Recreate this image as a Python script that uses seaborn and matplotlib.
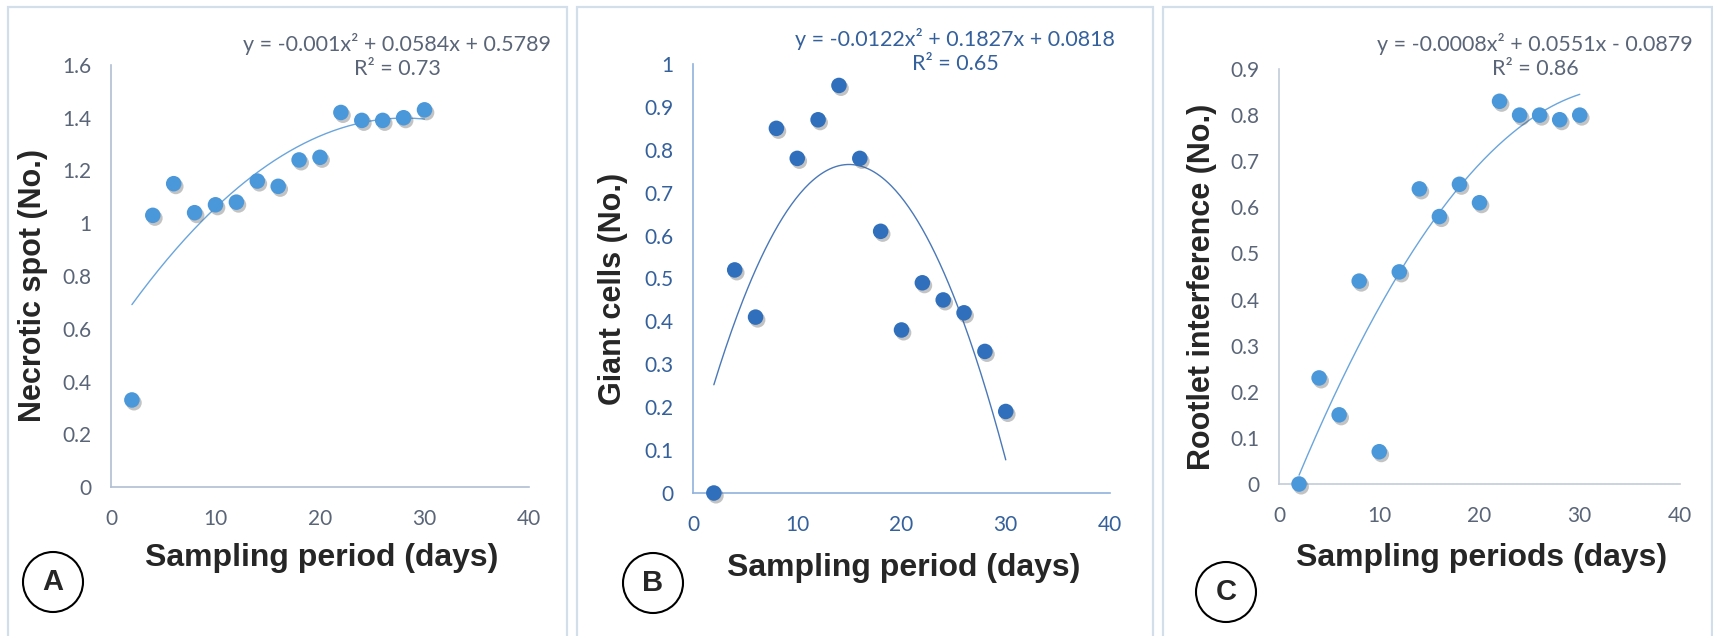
import numpy as np
import pandas as pd
import matplotlib
matplotlib.use('Agg')
import matplotlib.pyplot as plt
import matplotlib.patheffects as pe
from matplotlib.patches import Rectangle, Ellipse
import seaborn as sns

# sampling days shared by all three panels
days = [2, 4, 6, 8, 10, 12, 14, 16, 18, 20, 22, 24, 26, 28, 30]

necrotic = [0.33, 1.03, 1.15, 1.04, 1.07, 1.08, 1.16, 1.14, 1.24, 1.25, 1.42, 1.39, 1.39, 1.40, 1.43]
giant = [0.0, 0.52, 0.41, 0.85, 0.78, 0.87, 0.95, 0.78, 0.61, 0.38, 0.49, 0.45, 0.42, 0.33, 0.19]
rootlet = [0.0, 0.23, 0.15, 0.44, 0.07, 0.46, 0.64, 0.58, 0.65, 0.61, 0.83, 0.80, 0.80, 0.79, 0.80]

# quadratic trendlines (in days); B's equation was fitted on sample index = days/2
trend_a = [-0.00104, 0.0584, 0.5789]
trend_b = [-0.0122 / 4, 0.1827 / 2, 0.0818]
trend_c = [-0.0008, 0.0551, -0.0879]

eq_a = 'y = -0.001x² + 0.0584x + 0.5789\nR² = 0.73'
eq_b = 'y = -0.0122x² + 0.1827x + 0.0818\nR² = 0.65'
eq_c = 'y = -0.0008x² + 0.0551x - 0.0879\nR² = 0.86'

ylabels = ['Necrotic spot (No.)', 'Giant cells (No.)', 'Rootlet interference (No.)']
xlabels = ['Sampling period (days)', 'Sampling period (days)', 'Sampling periods (days)']
letters = ['A', 'B', 'C']

sns.set_style('white')
plt.rcParams['font.family'] = ['Lato', 'DejaVu Sans']

W, H = 1713, 636
fig = plt.figure(figsize=(W / 100, H / 100), dpi=100)

def fx(px):
    return px / W

def fy(py):
    return 1 - py / H

# pixel boxes: left, right, top, bottom
boxes = [(111, 529, 65, 487), (693, 1110, 64, 493), (1279, 1680, 69, 484)]
frames = [(8, 567), (577, 1153), (1163, 1712)]
ylims = [(1.6, 0.2), (1.0, 0.1), (0.9, 0.1)]
series = [necrotic, giant, rootlet]
trends = [trend_a, trend_b, trend_c]
eqs = [eq_a, eq_b, eq_c]
eq_pos = [(397, 56), (955, 51), (1535, 56)]
ylab_x = [33, 613, 1202]
xlab_y = [558, 568, 558]
circles = [(53, 582), (653, 583), (1226, 592)]

tick_col = ['#5a6578', '#34609c', '#5a6578']
dot_col = ['#4a97da', '#2f6fbc', '#4a97da']
line_col = ['#6aa5dc', '#4a78b8', '#6aa5dc']
axis_col = ['#b0bfd3', '#90b2de', '#c2ccda']

for i in range(3):
    l, r, t, b = boxes[i]
    ax = fig.add_axes([fx(l), fy(b), fx(r) - fx(l), fy(t) - fy(b)])
    ax.set_facecolor('none')

    df = pd.DataFrame({'x': days, 'y': series[i]})
    p = np.poly1d(trends[i])
    tx = np.linspace(days[0], days[-1], 200)
    sns.lineplot(x=tx, y=p(tx), ax=ax, color=line_col[i], lw=1.0, zorder=2)
    sns.scatterplot(data=df, x='x', y='y', ax=ax, s=125, color=dot_col[i],
                    edgecolor='none', zorder=3, clip_on=False)
    ax.collections[-1].set_path_effects([
        pe.SimplePatchShadow(offset=(1.5, -2), shadow_rgbFace='#555555', alpha=0.35),
        pe.Normal()])

    ymax, step = ylims[i]
    ax.set_xlim(0, 40)
    ax.set_ylim(0, ymax)
    ax.set_xticks([0, 10, 20, 30, 40])
    yt = np.round(np.arange(0, ymax + step / 2, step), 2)
    ax.set_yticks(yt)
    ax.set_yticklabels([f'{v:g}' for v in yt])
    ax.tick_params(length=0, labelsize=15, colors=tick_col[i], pad=14)
    ax.tick_params(axis='x', pad=16)
    for s in ['top', 'right']:
        ax.spines[s].set_visible(False)
    for s in ['left', 'bottom']:
        ax.spines[s].set_color(axis_col[i])
        ax.spines[s].set_linewidth(1.2)
    ax.set_xlabel('')
    ax.set_ylabel('')

    # labels placed in figure pixels
    fig.text(fx((l + r) / 2 + 2), fy(xlab_y[i]), xlabels[i], family='Liberation Sans',
             weight='bold', fontsize=23, ha='center', va='center')
    fig.text(fx(ylab_x[i]), fy((t + b) / 2 + 10), ylabels[i], family='Liberation Sans',
             weight='bold', fontsize=22, rotation=90, ha='center', va='center')
    fig.text(fx(eq_pos[i][0]), fy(eq_pos[i][1]), eqs[i], fontsize=15.5, color=tick_col[i],
             ha='center', va='center', linespacing=1.2)

    # panel frame and letter circle
    f0, f1 = frames[i]
    fig.add_artist(Rectangle((fx(f0), fy(700)), fx(f1) - fx(f0), fy(7) - fy(700),
                             transform=fig.transFigure, fill=False,
                             edgecolor='#d3deeb', lw=1.6))
    cx, cy = circles[i]
    fig.add_artist(Ellipse((fx(cx), fy(cy)), fx(60), 60 / H,
                           transform=fig.transFigure, fill=False,
                           edgecolor='black', lw=1.5))
    fig.text(fx(cx), fy(cy), letters[i], family='Liberation Sans', weight='bold',
             fontsize=21, ha='center', va='center')

fig.savefig('out.png', dpi=100, facecolor='white')
